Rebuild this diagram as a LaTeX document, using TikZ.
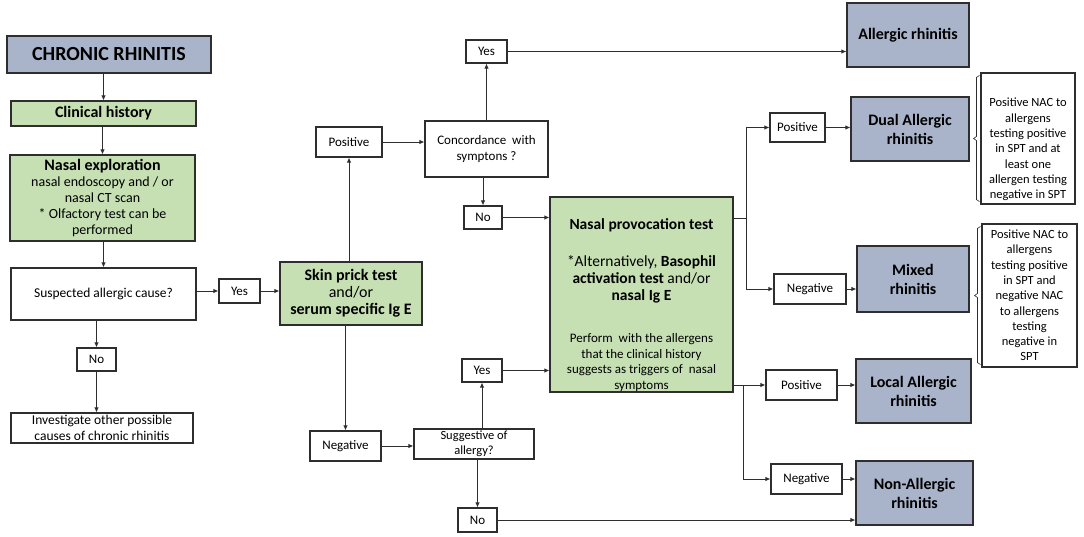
\documentclass[tikz,border=0pt]{standalone}
\usepackage{fontspec}
\setmainfont{Carlito}
\usetikzlibrary{arrows.meta,calc}
\definecolor{bluegray}{HTML}{A9B4CA}
\definecolor{lightgreen}{HTML}{C6E0B4}
\definecolor{edge}{HTML}{2E2E2E}
\newcommand{\sz}[2]{\fontsize{#1}{#2}\selectfont}
\tikzset{
  wh/.style 2 args={minimum width=#1, minimum height=#2},
  box/.style={draw=edge, line width=1.1pt, align=center, inner sep=1pt},
  greenbox/.style={box, fill=lightgreen},
  resultbox/.style={box, fill=bluegray, font=\sz{16}{19}\bfseries},
  labelbox/.style={box, font=\sz{13}{15}},
  notetext/.style={align=center, inner sep=0pt, font=\sz{12.5}{15.3}},
  arr/.style={draw=edge, line width=0.9pt, -{Latex[length=5pt,width=4.5pt]}},
  line/.style={draw=edge, line width=0.9pt},
}
\begin{document}
\begin{tikzpicture}[x=1pt,y=-1pt]
\useasboundingbox (0,0) rectangle (1084,537);
% left column
\node[resultbox, wh={204pt}{37pt}, font=\sz{20}{22}\bfseries] (chronic) at (109,54.5) {CHRONIC RHINITIS};
\node[greenbox, wh={185pt}{25pt}, font=\sz{16}{18}\bfseries] (clinical) at (103.5,113.5) {Clinical history};
\node[greenbox, wh={185pt}{86pt}, font=\sz{14}{16}] (nasalexp) at (102.5,198)
  {{\sz{16}{18}\bfseries Nasal exploration}\\nasal endoscopy and / or\\nasal CT scan\\* Olfactory test can be\\performed};
\node[box, wh={185pt}{52pt}, font=\sz{13.5}{16}] (suspected) at (103.5,294) {Suspected allergic cause?};
\node[labelbox, wh={41pt}{24pt}] (yesA) at (239.5,291) {Yes};
\node[labelbox, wh={39pt}{23pt}] (noA) at (96.5,359.5) {No};
\node[box, wh={182pt}{30pt}, font=\sz{13.5}{15.5}] (investigate) at (102,428)
  {Investigate other possible\\causes of chronic rhinitis};
% skin prick test
\node[greenbox, wh={142pt}{63pt}, font=\sz{16}{17}] (skinprick) at (351,293.5)
  {\textbf{Skin prick test}\\and/or\\\textbf{serum specific Ig E}};
\node[labelbox, wh={66pt}{30pt}] (posA) at (349,142) {Positive};
\node[labelbox, wh={71pt}{30pt}] (negA) at (345.5,446) {Negative};
% concordance and suggestive
\node[box, wh={123pt}{56pt}, font=\sz{13}{15.5}] (concord) at (486.5,149) {Concordance\ \ with\\symptons ?};
\node[labelbox, wh={41pt}{23pt}] (yesB) at (486.5,51.5) {Yes};
\node[labelbox, wh={38pt}{23pt}] (noB) at (483,217.5) {No};
\node[box, wh={120pt}{30pt}, font=\sz{12.5}{14.5}] (suggest) at (474,444) {Suggestive of\\allergy?};
\node[labelbox, wh={40pt}{23pt}] (yesC) at (482,370.5) {Yes};
\node[labelbox, wh={39pt}{24pt}] (noC) at (477.5,520) {No};
% nasal provocation test
\node[greenbox, wh={183pt}{195pt}] (npt) at (641.5,294.5) {};
\node[align=center, inner sep=0pt, font=\sz{15.5}{17}] (npttext) at (641.5,305)
  {\textbf{Nasal provocation test}\\[20pt]
   *Alternatively, \textbf{Basophil}\\\textbf{activation test} and/or\\\textbf{nasal Ig E}\\[25pt]
   {\sz{13}{15.5}Perform\ \ with the allergens}\\[-1.5pt]
   {\sz{13}{15.5}that the clinical history}\\[-1.5pt]
   {\sz{13}{15.5}suggests as triggers of\ \ nasal}\\[-1.5pt]
   {\sz{13}{15.5}symptoms}};
% results
\node[resultbox, wh={122pt}{64pt}] (allergic) at (908,35) {Allergic rhinitis};
\node[resultbox, wh={118pt}{64pt}] (dual) at (910,129) {Dual Allergic\\rhinitis};
\node[resultbox, wh={112pt}{66pt}] (mixed) at (913,279) {Mixed\\rhinitis};
\node[resultbox, wh={115pt}{64pt}] (local) at (913.5,391) {Local Allergic\\rhinitis};
\node[resultbox, wh={117pt}{64pt}] (nonall) at (914.5,493) {Non-Allergic\\rhinitis};
\node[labelbox, wh={55pt}{29pt}] (posB) at (797.5,127.5) {Positive};
\node[labelbox, wh={72pt}{30pt}] (negB) at (810,289) {Negative};
\node[labelbox, wh={71pt}{30pt}] (posC) at (801.5,385) {Positive};
\node[labelbox, wh={71pt}{30pt}] (negC) at (806.5,479) {Negative};
% notes
\node[box, wh={94pt}{131pt}] (note1) at (1028,138.5) {};
\node[notetext] (note1text) at (1028,149.5)
  {Positive NAC to\\allergens\\testing positive\\in SPT and at\\least one\\allergen testing\\negative in SPT};
\node[box, wh={95pt}{143pt}] (note2) at (1029.5,295.5) {};
\node[notetext] (note2text) at (1029.5,295.5)
  {Positive NAC to\\allergens\\testing positive\\in SPT and\\negative NAC\\to allergens\\testing\\negative in\\SPT};
\foreach \n in {note1,note2}
  \draw[line, line width=0.6pt] ($(\n.north west)+(-1,3)$) -- ++(-3,2) -- ($(\n.west)+(-4,-2)$)
    -- ++(-3,2) -- ++(3,2) -- ($(\n.south west)+(-4,-5)$) -- ++(3,2);
% connectors, left column
\draw[arr] (clinical.north |- chronic.south) -- (clinical.north);
\draw[arr] (nasalexp.north |- clinical.south) -- (nasalexp.north);
\draw[arr] (suspected.north |- nasalexp.south) -- (suspected.north);
\draw[arr] (noA.north |- suspected.south) -- (noA.north);
\draw[arr] (noA.south) -- (noA.south |- investigate.north);
\draw[arr] (suspected.east |- yesA) -- (yesA.west);
\draw[arr] (yesA.east) -- (yesA.east -| skinprick.west);
% connectors, middle
\draw[arr] (posA.south |- skinprick.north) -- (posA.south);
\draw[arr] (negA.north |- skinprick.south) -- (negA.north);
\draw[arr] (posA.east) -- (posA.east -| concord.west);
\draw[arr] (yesB.south |- concord.north) -- (yesB.south);
\draw[arr] (noB.north |- concord.south) -- (noB.north);
\draw[arr] (noB.east) -- (noB.east -| npt.west);
\draw[arr] (yesB.east) -- (yesB.east -| allergic.west);
\draw[arr] (negA.east) -- (negA.east -| suggest.west);
\draw[arr] (yesC.south |- suggest.north) -- (yesC.south);
\draw[arr] (noC.north |- suggest.south) -- (noC.north);
\draw[arr] (yesC.east) -- (yesC.east -| npt.west);
\draw[arr] (noC.east) -- (noC.east -| nonall.west);
% connectors, right
\coordinate (splitA) at (746,218);
\draw[line] (npt.east |- splitA) -- (splitA);
\draw[arr] (splitA) |- (posB.west);
\draw[arr] (splitA) |- (negB.west);
\draw[arr] (posB.east) -- (posB.east -| dual.west);
\draw[arr] (negB.east) -- (negB.east -| mixed.west);
\coordinate (splitB) at (743,385);
\draw[arr] (npt.east |- splitB) -- (posC.west);
\draw[arr] (splitB) |- (negC.west);
\draw[arr] (posC.east) -- (posC.east -| local.west);
\draw[arr] (negC.east) -- (negC.east -| nonall.west);
\end{tikzpicture}
\end{document}
